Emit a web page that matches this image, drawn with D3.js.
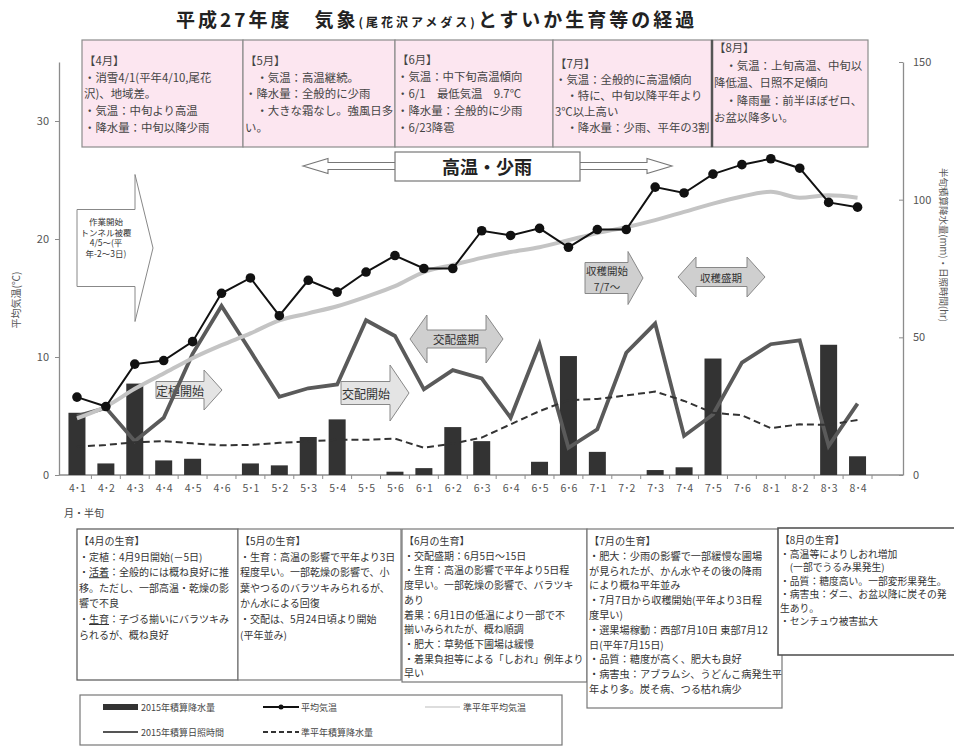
<!DOCTYPE html>
<html><head><meta charset="utf-8">
<script src="https://cdn.jsdelivr.net/npm/d3@7"></script>
<style>
body{margin:0;background:#fff}
svg{display:block}
text{font-family:"Noto Sans CJK JP","Noto Sans",sans-serif}
</style>
</head><body>
<svg id="c" width="954" height="753"></svg>
<script>
// ---------- data ----------
const categories = ["4･1","4･2","4･3","4･4","4･5","4･6","5･1","5･2","5･3","5･4","5･5","5･6",
  "6･1","6･2","6･3","6･4","6･5","6･6","7･1","7･2","7･3","7･4","7･5","7･6","8･1","8･2","8･3","8･4"];
const precip2015   = [22.6,4.2,33.2,5.3,5.9,0,4.2,3.5,13.8,20.2,0,1.2,2.5,17.4,12.3,0,4.8,43.2,8.4,0,1.8,2.8,42.3,0,0,0,47.3,6.8];
const sunshine2015 = [21.4,24.4,12.3,20.8,44.0,61.4,45.0,28.4,31.5,32.9,56.2,50.5,31.1,38.1,35.1,20.8,47.5,9.9,16.6,44.4,55.0,14.2,22.0,40.8,47.5,48.9,10.5,25.9];
const normalPrecip = [10.3,10.9,11.9,12.3,11.5,10.8,10.9,11.7,12.2,12.8,12.8,13.2,9.9,11.4,13.6,18.4,23.2,27.2,27.6,28.9,30.3,26.9,22.6,21.7,17.0,18.4,18.2,20.0];
const avgTemp      = [6.6,5.8,9.4,9.7,11.3,15.4,16.7,13.5,16.5,15.5,17.2,18.6,17.5,17.5,20.7,20.3,20.9,19.3,20.8,20.8,24.4,23.9,25.5,26.3,26.8,26.0,23.1,22.7];
const normalTemp   = [4.8,5.8,7.3,8.6,9.9,11.0,12.0,13.1,13.7,14.3,15.1,16.0,17.2,17.8,18.4,18.9,19.3,19.9,20.5,21.0,21.6,22.3,23.0,23.6,24.0,23.5,23.7,23.5];
const leftTicks  = [0,10,20,30];
const rightTicks = [0,50,100,150];

const titleParts = [["平成27年度　気象",19],["(尾花沢アメダス)",12],["とすいか生育等の経過",19]];
const leftAxisTitle = "平均気温(℃)";
const rightAxisTitle = "半旬積算降水量(mm)・日照時間(hr)";
const xAxisTitle = "月・半旬";

const weatherBoxes = [
  {lines:["【4月】","・消雪4/1(平年4/10,尾花","沢)、地域差。","・気温：中旬より高温","・降水量：中旬以降少雨"], y0:60, lh:16.7},
  {lines:["【5月】","　・気温：高温継続。","・降水量：全般的に少雨","　・大きな霜なし。強風日多","い。"], y0:60, lh:16.7},
  {lines:["【6月】","・気温：中下旬高温傾向","・6/1　最低気温　9.7℃","・降水量：全般的に少雨","・6/23降雹"], y0:59, lh:17},
  {lines:["【7月】","・気温：全般的に高温傾向","　・特に、中旬以降平年より","3℃以上高い","　・降水量：少雨、平年の3割"], y0:63, lh:16},
  {lines:["【8月】","　・気温：上旬高温、中旬以","降低温、日照不足傾向","　・降雨量：前半ほぼゼロ、","お盆以降多い。"], y0:47, lh:17.6}
];
const growthBoxes = [
  {lines:["【4月の生育】","・定植：4月9日開始(－5日)","・{活着}：全般的には概ね良好に推","移。ただし、一部高温・乾燥の影","響で不良","・{生育}：子づる揃いにバラツキみ","られるが、概ね良好"], lh:15.6, fs:10},
  {lines:["【5月の生育】","・生育：高温の影響で平年より3日","程度早い。一部乾燥の影響で、小","葉やつるのバラツキみられるが、","かん水による回復","・交配は、5月24日頃より開始","(平年並み)"], lh:15.6, fs:10},
  {lines:["【6月の生育】","・交配盛期：6月5日～15日","・生育：高温の影響で平年より5日程","度早い。一部乾燥の影響で、バラツキ","あり","着果：6月1日の低温により一部で不","揃いみられたが、概ね順調","・肥大：草勢低下圃場は緩慢","・着果負担等による「しおれ」例年より","早い"], lh:14.7, fs:10},
  {lines:["【7月の生育】","・肥大：少雨の影響で一部緩慢な圃場","が見られたが、かん水やその後の降雨","により概ね平年並み","・7月7日から収穫開始(平年より3日程","度早い)","・選果場稼動：西部7月10日 東部7月12","日(平年7月15日)","・品質：糖度が高く、肥大も良好","・病害虫：アブラムシ、うどんこ病発生平","年より多。炭そ病、つる枯れ病少"], lh:14.8, fs:10.2},
  {lines:["【8月の生育】","・高温等によりしおれ増加","　(一部でうるみ果発生)","・品質：糖度高い。一部変形果発生。","・病害虫：ダニ、お盆以降に炭その発","生あり。","・センチュウ被害拡大"], lh:13.5, fs:9.8}
];
const legendItems = [
  {label:"2015年積算降水量", type:"bar"},
  {label:"平均気温", type:"temp"},
  {label:"準平年平均気温", type:"normTemp"},
  {label:"2015年積算日照時間", type:"sun"},
  {label:"準平年積算降水量", type:"normPrecip"}
];

// ---------- layout ----------
const svg = d3.select("#c");
const plot = {left:59, right:903, top:62, bottom:475, bandL:62.5, bandR:872};
const x = d3.scalePoint().domain(categories).range([plot.bandL, plot.bandR]).padding(0.5);
const step = x.step();
const barW = 17;
const yL = d3.scaleLinear().domain([0,35]).range([plot.bottom, plot.top]);
const yR = d3.scaleLinear().domain([0,150]).range([plot.bottom, plot.top]);

// title
const title = svg.append("text").attr("x",176).attr("y",27).attr("fill","#222")
  .attr("font-weight","bold").attr("letter-spacing",3);
titleParts.forEach(([t,s]) => title.append("tspan").attr("font-size",s).text(t));

// top weather boxes
const topX = [82,243,395,553,712,868];
weatherBoxes.forEach((b,i) => {
  svg.append("rect").attr("x",topX[i]).attr("y",40).attr("width",topX[i+1]-topX[i]).attr("height",107)
    .attr("fill","#fce6f0").attr("stroke","#8c8c8c").attr("stroke-width",1.2);
});
svg.append("line").attr("x1",712).attr("x2",712).attr("y1",40).attr("y2",147).attr("stroke","#555").attr("stroke-width",2.5);
weatherBoxes.forEach((b,i) => {
  b.lines.forEach((ln,j) => {
    svg.append("text").attr("x",topX[i]+2).attr("y",b.y0 + j*b.lh).attr("dominant-baseline","central")
      .attr("font-size",11.4).attr("fill","#444").attr("xml:space","preserve").text(ln);
  });
});

// ---------- axes ----------
const gL = svg.append("g").attr("transform",`translate(${plot.left},0)`)
  .call(d3.axisLeft(yL).tickValues(leftTicks).tickSize(4).tickSizeOuter(0).tickPadding(6));
const gR = svg.append("g").attr("transform",`translate(${plot.right},0)`)
  .call(d3.axisRight(yR).tickValues(rightTicks).tickSize(-4).tickSizeOuter(0).tickPadding(10));
const gX = svg.append("g").attr("transform",`translate(0,${plot.bottom})`)
  .call(d3.axisBottom(x).tickSize(0).tickPadding(10));
[gL,gR,gX].forEach(g => {
  g.selectAll("path.domain").attr("stroke","#8c8c8c").attr("stroke-width",1.3);
  g.selectAll(".tick line").attr("stroke","#8c8c8c");
  g.selectAll(".tick text").attr("font-size",11).attr("fill","#555")
    .attr("font-family","'Liberation Sans','DejaVu Sans',sans-serif");
});
gX.select("path.domain").attr("d",`M${plot.left},0H${plot.right}`);
gX.selectAll(".tick text").attr("font-family","'Noto Sans CJK JP',sans-serif").attr("font-size",10.5);
// separators between categories
svg.append("g").selectAll("line").data(categories).join("line")
  .attr("x1",d=>x(d)+step/2).attr("x2",d=>x(d)+step/2)
  .attr("y1",plot.bottom).attr("y2",plot.bottom+4).attr("stroke","#8c8c8c");

svg.append("text").attr("transform",`translate(20,${300}) rotate(-90)`).attr("text-anchor","middle")
  .attr("font-size",10).attr("fill","#555").text(leftAxisTitle);
svg.append("text").attr("transform",`translate(944,${245}) rotate(90)`).attr("text-anchor","middle")
  .attr("dominant-baseline","central").attr("font-size",9.5).attr("fill","#555").text(rightAxisTitle);
svg.append("text").attr("x",64).attr("y",512).attr("dominant-baseline","central")
  .attr("font-size",10).attr("fill","#444").text(xAxisTitle);

// ---------- annotations (drawn behind data) ----------
const ann = svg.append("g");
function arrowR(x0,x1,cy,bh,hh,hl){
  return `M${x0},${cy-bh/2}H${x1-hl}V${cy-hh/2}L${x1},${cy}L${x1-hl},${cy+hh/2}V${cy+bh/2}H${x0}Z`;
}
function arrowLR(x0,x1,cy,bh,hh,hl){
  return `M${x0},${cy}L${x0+hl},${cy-hh/2}V${cy-bh/2}H${x1-hl}V${cy-hh/2}L${x1},${cy}L${x1-hl},${cy+hh/2}V${cy+bh/2}H${x0+hl}V${cy+hh/2}Z`;
}
function annText(lines,cx,cy,lh,fs,opts={}){
  lines.forEach((t,i)=>{
    ann.append("text").attr("x",cx).attr("y",cy+(i-(lines.length-1)/2)*lh).attr("text-anchor","middle")
      .attr("dominant-baseline","central").attr("font-size",fs).attr("fill",opts.fill||"#333")
      .attr("font-weight",opts.bold?"bold":"normal").text(t);
  });
}
// 高温・少雨
ann.append("path").attr("d",arrowLR(303,672,166,7,15,25)).attr("fill","#fff").attr("stroke","#777").attr("stroke-width",1.1);
ann.append("rect").attr("x",395).attr("y",152).attr("width",185).attr("height",29).attr("fill","#fff").attr("stroke","#777").attr("stroke-width",1.2);
annText(["高温・少雨"],487,166,0,18,{bold:true,fill:"#222"});
// 作業開始
ann.append("path").attr("d",arrowR(77,153,248,77,147,18)).attr("fill","#fff").attr("stroke","#888");
annText(["作業開始","トンネル被覆","4/5～(平","年-2～3日)"],106,237,10.5,8.5);
// 定植開始
ann.append("path").attr("d",arrowR(156,222,390,17,40,18)).attr("fill","#e4e4e4").attr("stroke","#888");
annText(["定植開始"],180,390,0,12);
// 交配開始
ann.append("path").attr("d",arrowR(341,409,393,23,56,19)).attr("fill","#e4e4e4").attr("stroke","#888");
annText(["交配開始"],366,393,0,12);
// 交配盛期
ann.append("path").attr("d",arrowLR(410,503,339,18,48,17)).attr("fill","#cfcfcf").attr("stroke","#888");
annText(["交配盛期"],456,339,0,11.5);
// 収穫開始
ann.append("path").attr("d",arrowR(585,643,278,31,53,15)).attr("fill","#cfcfcf").attr("stroke","#888");
annText(["収穫開始","7/7～"],607,278,16,10.5);
// 収穫盛期
ann.append("path").attr("d",arrowLR(678,765,277,19,40,18)).attr("fill","#cfcfcf").attr("stroke","#888");
annText(["収穫盛期"],721,277,0,10.5);

// ---------- data marks ----------
const idx = d3.range(categories.length);
svg.append("g").selectAll("rect").data(idx).join("rect")
  .attr("x",i=>x(categories[i])-barW/2).attr("width",barW)
  .attr("y",i=>yR(precip2015[i])).attr("height",i=>yR(0)-yR(precip2015[i]))
  .attr("fill","#333");

const lineR = arr => d3.line().x(i=>x(categories[i])).y(i=>yR(arr[i]));
const lineL = arr => d3.line().x(i=>x(categories[i])).y(i=>yL(arr[i]));

svg.append("path").attr("d",lineR(sunshine2015)(idx)).attr("fill","none")
  .attr("stroke","#5a5a5a").attr("stroke-width",3.8).attr("stroke-linejoin","miter");
svg.append("path").attr("d",lineR(normalPrecip)(idx)).attr("fill","none")
  .attr("stroke","#333").attr("stroke-width",2).attr("stroke-dasharray","7,4");
svg.append("path").attr("d",lineL(normalTemp).curve(d3.curveMonotoneX)(idx)).attr("fill","none")
  .attr("stroke","#c4c4c4").attr("stroke-width",4);
svg.append("path").attr("d",lineL(avgTemp)(idx)).attr("fill","none")
  .attr("stroke","#111").attr("stroke-width",2);
svg.append("g").selectAll("circle").data(idx).join("circle")
  .attr("cx",i=>x(categories[i])).attr("cy",i=>yL(avgTemp[i])).attr("r",4.8).attr("fill","#111");

// ---------- bottom growth boxes ----------
const botBoxes = [
  {x:77,w:161,y:529,h:151},{x:238,w:163,y:529,h:151},{x:402,w:185,y:529,h:153},
  {x:587,w:195,y:529,h:179},{x:778,w:180,y:528,h:127}
];
botBoxes.forEach((r,i) => {
  svg.append("rect").attr("x",r.x).attr("y",r.y).attr("width",r.w).attr("height",r.h)
    .attr("fill","#fff").attr("stroke",i===0||i===4?"#555":"#777").attr("stroke-width",i===4?1.6:1.2);
});
growthBoxes.forEach((b,i) => {
  const r = botBoxes[i];
  b.lines.forEach((ln,j) => {
    const t = svg.append("text").attr("x",r.x+2).attr("y",540 + j*b.lh).attr("dominant-baseline","central")
      .attr("font-size",b.fs).attr("fill","#333").attr("xml:space","preserve");
    ln.split(/(\{[^}]*\})/).filter(s=>s.length).forEach(seg => {
      if (seg.startsWith("{")) t.append("tspan").attr("text-decoration","underline").text(seg.slice(1,-1));
      else t.append("tspan").text(seg);
    });
  });
});

// ---------- legend ----------
const lg = svg.append("g");
lg.append("rect").attr("x",80).attr("y",695).attr("width",482).attr("height",50)
  .attr("fill","#fff").attr("stroke","#777").attr("stroke-width",1.2);
const legPos = [[103,707],[263,707],[425,707],[103,732],[263,732]];
legendItems.forEach((it,i) => {
  const [lx,ly] = legPos[i];
  const g = lg.append("g");
  if (it.type==="bar") g.append("rect").attr("x",lx).attr("y",ly-3).attr("width",35).attr("height",6).attr("fill","#333");
  if (it.type==="temp") { g.append("line").attr("x1",lx).attr("x2",lx+36).attr("y1",ly).attr("y2",ly).attr("stroke","#111").attr("stroke-width",2);
    g.append("circle").attr("cx",lx+18).attr("cy",ly).attr("r",2.5).attr("fill","#111"); }
  if (it.type==="normTemp") g.append("line").attr("x1",lx).attr("x2",lx+35).attr("y1",ly).attr("y2",ly).attr("stroke","#bbb").attr("stroke-width",1.2);
  if (it.type==="sun") g.append("line").attr("x1",lx).attr("x2",lx+35).attr("y1",ly).attr("y2",ly).attr("stroke","#555").attr("stroke-width",2);
  if (it.type==="normPrecip") g.append("line").attr("x1",lx).attr("x2",lx+36).attr("y1",ly).attr("y2",ly).attr("stroke","#333").attr("stroke-width",2).attr("stroke-dasharray","5,3");
  g.append("text").attr("x",lx+38).attr("y",ly).attr("dominant-baseline","central")
    .attr("font-size",9).attr("fill","#444").text(it.label);
});
</script>
</body></html>
